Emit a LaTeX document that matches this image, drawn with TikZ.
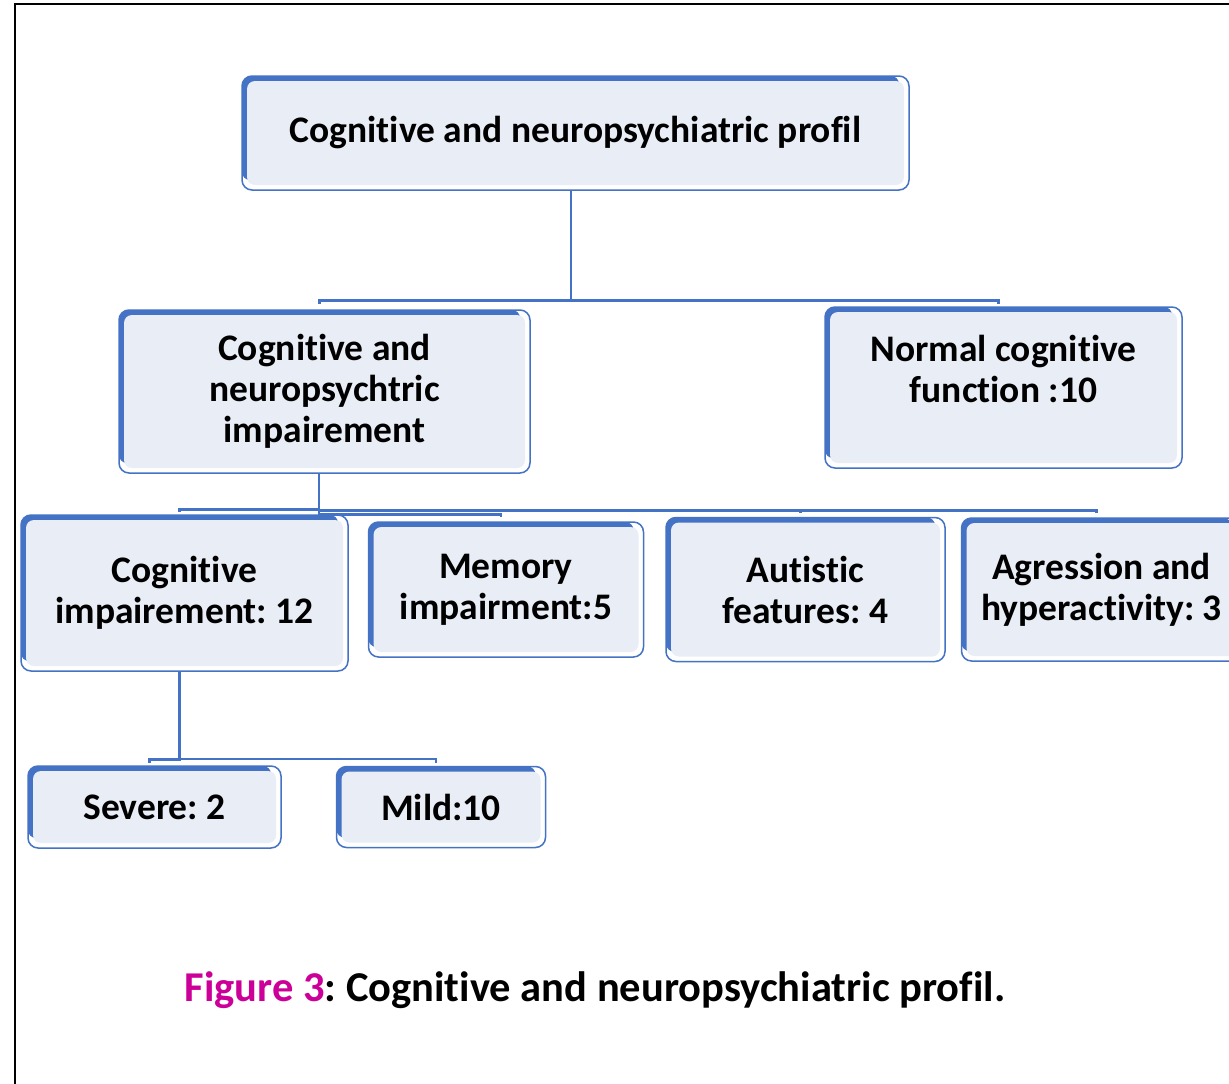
\documentclass[tikz,border=0pt]{standalone}
\usepackage{fontspec}
\setmainfont{Carlito}[Ligatures=NoCommon]
\usepackage{tikz}
\usetikzlibrary{positioning}
\definecolor{boxblue}{HTML}{4472C4}
\definecolor{boxfill}{HTML}{E9EDF6}
\definecolor{figpink}{HTML}{CC0099}
\frenchspacing

\begin{document}
\begin{tikzpicture}[
  x=1pt,y=-1pt,
  box/.style={draw=boxblue,line width=1.5pt,fill=white,rounded corners=10pt,align=center,inner sep=0pt,
    font=\fontsize{37.5}{41}\selectfont\bfseries,
    path picture={
      \fill[boxblue,rounded corners=8pt] (path picture bounding box.north west) rectangle ([xshift=-10pt,yshift=10pt]path picture bounding box.south east);
      \fill[boxfill,rounded corners=8pt] ([xshift=5pt,yshift=-5pt]path picture bounding box.north west) rectangle ([xshift=-5pt,yshift=5pt]path picture bounding box.south east);
    }},
  link/.style={draw=boxblue,line width=2.5pt}
]
\useasboundingbox (0,0) rectangle (1229,1084);
\draw[line width=2pt] (15,1084) -- (15,4) -- (1229,4);

\node[box,minimum width=667pt,minimum height=114pt] (prof) at (575.5,133) {Cognitive and neuropsychiatric profil};
\node[box,minimum width=411pt,minimum height=163pt] (imp) at (324.5,391.5) {Cognitive and\\neuropsychtric\\impairement};
\node[box,minimum width=357pt,minimum height=161pt,text depth=38pt] (normal) at (1003.5,387.5) {Normal cognitive\\function :10};
\node[box,minimum width=327pt,minimum height=156pt] (cogimp) at (184.5,593) {Cognitive\\impairement: 12};
\node[box,minimum width=275pt,minimum height=135pt,right=19pt of cogimp,yshift=3.5pt] (memory) {Memory\\impairment:5};
\node[box,minimum width=279pt,minimum height=144pt,right=21pt of memory] (autism) {Autistic\\features: 4};
\node[box,minimum width=280pt,minimum height=143pt,right=15pt of autism] (aggr) {Agression and\\hyperactivity: 3};
\node[box,minimum width=253pt,minimum height=82pt] (severe) at (154.5,807) {Severe: 2};
\node[box,minimum width=209pt,minimum height=81pt,right=54pt of severe] (mild) {Mild:10};
\node[font=\fontsize{42.5}{48}\selectfont\bfseries] (caption) at (595,990) {\textcolor{figpink}{Figure 3}: Cognitive and neuropsychiatric profil.};

\draw[link] ([xshift=-4.5pt]prof.south) |- ([xshift=-5pt,yshift=9pt]imp.north) -- ++(0,4);
\draw[link] ([xshift=-4.5pt]prof.south) |- ([xshift=-5pt,yshift=6pt]normal.north) -- ++(0,4);
\draw[link] ([xshift=-5.5pt]imp.south) |- ([xshift=-5pt,yshift=5pt]cogimp.north) -- ++(0,3);
\draw[link] ([xshift=-5.5pt]imp.south) |- ([xshift=-5pt,yshift=7pt]memory.north) -- ++(0,3);
\draw[link] ([xshift=-5.5pt]imp.south) |- ([xshift=-5pt,yshift=7pt]autism.north) -- ++(0,3);
\draw[link] ([xshift=-5.5pt]imp.south) |- ([xshift=-5pt,yshift=7pt]aggr.north) -- ++(0,3);
\draw[link] ([xshift=-5pt]cogimp.south) |- ([xshift=-5pt,yshift=6pt]severe.north) -- ++(0,4);
\draw[link] ([xshift=-5pt]cogimp.south) |- ([xshift=-5pt,yshift=7pt]mild.north) -- ++(0,4);
\end{tikzpicture}
\end{document}
